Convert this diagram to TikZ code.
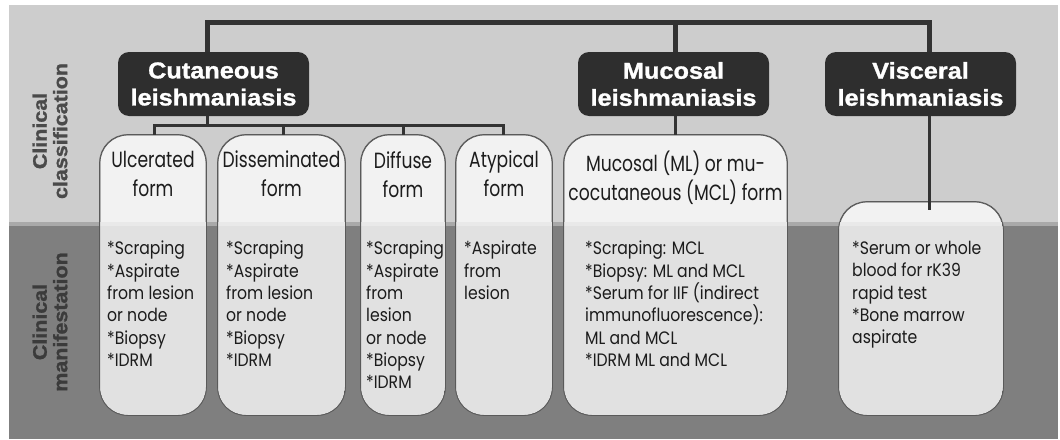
\documentclass[tikz,border=0pt]{standalone}
\usepackage{fontspec}
\newfontfamily\futura{Poppins}[FakeStretch=0.87]
\newfontfamily\futurat{Poppins}[FakeStretch=0.78]
\newfontfamily\heavy{Liberation Sans}[FakeStretch=1.1, FakeBold=1.2]
\definecolor{bgup}{HTML}{CDCDCD}
\definecolor{bgstrip}{HTML}{A9A9A9}
\definecolor{bglow}{HTML}{7F7F7F}
\definecolor{headfill}{HTML}{2E2E2E}
\definecolor{linecol}{HTML}{333333}
\definecolor{boxup}{HTML}{F2F2F2}
\definecolor{boxstrip}{HTML}{E9E9E9}
\definecolor{boxlow}{HTML}{E1E1E1}
\definecolor{boxline}{HTML}{5A5A5A}
\definecolor{txt}{HTML}{1C1C1C}
\definecolor{sidetxt}{HTML}{4A4A4A}
\tikzset{
  headbox/.style={fill=headfill, rounded corners=11pt, text=white,
    font=\heavy\bfseries\fontsize{23}{27}\selectfont, align=center,
    inner sep=0pt, minimum width=191pt, minimum height=64pt},
  formbox/.style={draw=boxline, line width=0.8pt, fill=boxup,
    rounded corners=28pt, inner sep=0pt},
  formtitle/.style={anchor=north, inner sep=0pt, align=center, text=txt,
    font=\futurat\fontsize{22}{29}\selectfont},
  formtext/.style={anchor=north west, inner sep=0pt, align=left, text=txt,
    font=\futura\fontsize{18}{22.3}\selectfont},
  sidelab/.style={rotate=90, inner sep=0pt, align=center, text=sidetxt,
    font=\heavy\bfseries\fontsize{19.5}{20.5}\selectfont},
  thickline/.style={draw=linecol, line width=5pt},
  thinline/.style={draw=linecol, line width=3pt},
}
\newcommand\formboxdraw[5]{%
  \node[formbox, minimum width={#4-#2}, minimum height={#5-#3}]
    (#1) at ({(#2+#4)/2},{(#3+#5)/2}) {};
  \begin{scope}
    \clip[rounded corners=28pt] (#2,#3) rectangle (#4,#5);
    \fill[boxlow] (#2,226) rectangle (#4,#5);
    \fill[boxstrip] (#2,222) rectangle (#4,226);
  \end{scope}
  \draw[boxline, line width=0.8pt, rounded corners=28pt] (#1.south west) rectangle (#1.north east);
}
\begin{document}
\begin{tikzpicture}[x=1pt,y=-1pt]
\useasboundingbox (0,0) rectangle (1060,439);
\fill[white] (0,0) rectangle (1060,439);
\fill[bgup] (9,5) rectangle (1058,222);
\fill[bgstrip] (9,222) rectangle (1058,226);
\fill[bglow] (9,226) rectangle (1058,439);

% side labels
\node[sidelab] (lab1) at (50,131) {Clinical\\classification};
\node[sidelab, text=sidetxt!80!black] (lab2) at (50,322) {Clinical\\manifestation};

% header boxes
\node[headbox] (ch) at (213.5,84) {Cutaneous\\leishmaniasis};
\node[headbox] (mh) at (673.5,84) {Mucosal\\leishmaniasis};
\node[headbox] (vh) at (920.5,84) {Visceral\\leishmaniasis};

% form boxes
\formboxdraw{u}{100}{135}{206}{415}
\formboxdraw{d}{218}{135}{345}{415}
\formboxdraw{f}{361}{135}{445}{415}
\formboxdraw{a}{456}{135}{552}{415}
\formboxdraw{m}{564}{135}{787}{415}
\formboxdraw{v}{839}{202}{1003}{415}

% connectors
\coordinate (t1) at (207,22);
\coordinate (t2) at (929,22);
\coordinate (t3) at (675,22);
\draw[thickline] (t1 |- ch.north) -- (t1) -- (t2) -- (t2 |- vh.north);
\draw[thickline] (t3) -- (t3 |- mh.north);

\coordinate (s0) at (207,125);
\coordinate (su) at (154,125);
\coordinate (sd) at (283,125);
\coordinate (sf) at (403,125);
\coordinate (sa) at (503,125);
\draw[thinline] (s0 |- ch.south) -- (s0);
\draw[thinline] (su |- u.north) -- (su) -- (sa) -- (sa |- a.north);
\draw[thinline] (sd) -- (sd |- d.north);
\draw[thinline] (sf) -- (sf |- f.north);
\draw[thinline] (t3 |- mh.south) -- (t3 |- m.north);
\draw[thinline, shorten >=-8pt] (t2 |- vh.south) -- (t2 |- v.north);

% titles
\node[formtitle] (ut) at (153,151) {Ulcerated\\form};
\node[formtitle] (dt) at (281.5,151) {Disseminated\\form};
\node[formtitle] (ft) at (403,151) {Diffuse\\form};
\node[formtitle] (at) at (504,151) {Atypical\\form};
\node[formtitle] (mt) at (675.5,151) {Mucosal (ML) or mu-\\cocutaneous (MCL) form};

% details
\node[formtext] (ux) at (107,241) {*Scraping\\*Aspirate\\from lesion\\or node\\*Biopsy\\*IDRM};
\node[formtext] (dx) at (226,241) {*Scraping\\*Aspirate\\from lesion\\or node\\*Biopsy\\*IDRM};
\node[formtext] (fx) at (366,241) {*Scraping\\*Aspirate\\from\\lesion\\or node\\*Biopsy\\*IDRM};
\node[formtext] (ax) at (464,241) {*Aspirate\\from\\lesion};
\node[formtext] (mx) at (585,241) {*Scraping: MCL\\*Biopsy: ML and MCL\\*Serum for IIF (indirect\\immunofluorescence):\\ML and MCL\\*IDRM ML and MCL};
\node[formtext] (vx) at (852,241) {*Serum or whole\\blood for rK39\\rapid test\\*Bone marrow\\aspirate};
\end{tikzpicture}
\end{document}
